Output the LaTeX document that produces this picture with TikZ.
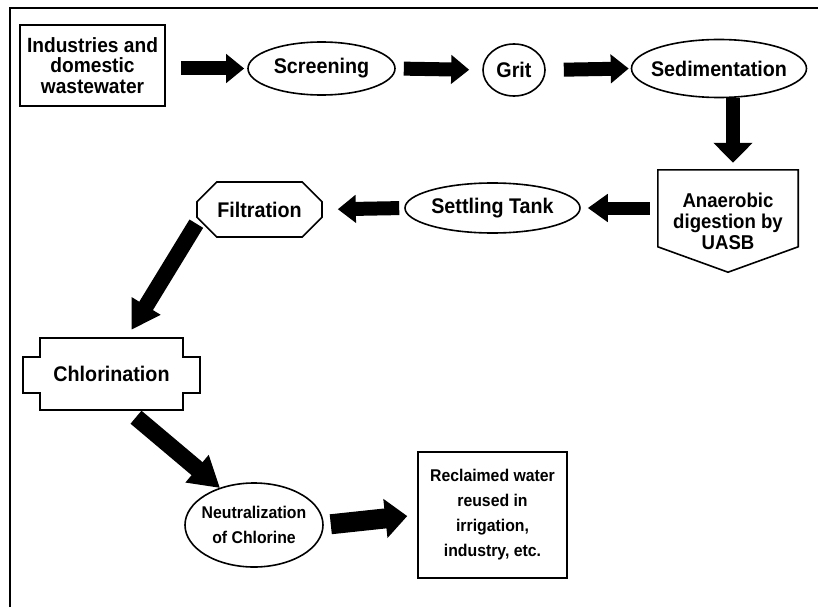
\documentclass[tikz,border=0pt]{standalone}
\usepackage{fontspec}
\setmainfont{Liberation Sans}[FakeStretch=0.93]
\usetikzlibrary{shapes.geometric,shapes.misc,arrows.meta,calc}
\begin{document}
\begin{tikzpicture}[x=1pt,y=-1pt,
  outline/.style={line width=1.6pt},
  box/.style={draw, outline, align=center, inner sep=0pt},
  ell/.style={ellipse, draw, outline, inner sep=0pt},
  big/.style={font=\bfseries\fontsize{21.2}{20}\selectfont, align=center},
  mid/.style={font=\bfseries\fontsize{20}{21}\selectfont, align=center},
  small/.style={font=\bfseries\fontsize{17}{25}\selectfont, align=center},
  blka/.style args={#1/#2/#3}{line width=#1, -{Triangle[length=#2,width=#3]}}
]
\useasboundingbox (0,0) rectangle (818,607);
% frame
\draw[line width=2pt] (10,607) -- (10,8) -- (818,8);

% nodes
\node[box, big, font=\bfseries\fontsize{20.6}{20.2}\selectfont, minimum width=145pt, minimum height=81pt] (ind) at (92.5,65.5) {Industries and\\domestic\\wastewater};
\node[ell, minimum width=147pt, minimum height=53pt, label={[big]center:Screening}] (scr) at (321.5,68.5) {};
\node[ell, minimum width=62pt, minimum height=52pt, label={[big]center:Grit}] (grit) at (514,70) {};
\node[ell, minimum width=175pt, minimum height=58pt, label={[big]center:Sedimentation}] (sed) at (719,68.5) {};
\node[mid, minimum width=140pt, minimum height=102pt, inner sep=0pt] (uasb) at (728,221) {Anaerobic\\digestion by\\UASB};
\draw[outline] (uasb.north west) -- (uasb.north east) -- ($(uasb.north east)+(0,77)$) -- (uasb.south) -- ($(uasb.north west)+(0,77)$) -- cycle;
\node[ell, minimum width=175pt, minimum height=50pt, label={[big]center:Settling Tank}] (set) at (492.5,208) {};
\node[chamfered rectangle, chamfered rectangle xsep=12pt, chamfered rectangle ysep=12pt, draw, outline, big, minimum width=125pt, minimum height=55pt, inner sep=0pt] (filt) at (259.5,209.5) {Filtration};
\node[big, minimum width=177pt, minimum height=72pt, inner sep=0pt] (chl) at (111.5,374) {Chlorination};
\draw[outline, shift={(chl.center)}] (-71.5,-36) -- (71.5,-36) -- (71.5,-17) -- (88.5,-17) -- (88.5,19) -- (71.5,19) -- (71.5,36) -- (-71.5,36) -- (-71.5,19) -- (-88.5,19) -- (-88.5,-17) -- (-71.5,-17) -- cycle;
\node[ell, minimum width=138pt, minimum height=84pt, label={[small]center:{Neutralization\\of Chlorine}}] (neu) at (254,525) {};
\node[box, small, minimum width=149pt, minimum height=126pt] (rec) at (492.5,515) {Reclaimed water\\reused in\\irrigation,\\industry, etc.};

% arrows
\draw[blka={14pt/18pt/28pt}, shorten <=15pt, shorten >=3pt] (ind.east |- scr.west) -- (scr.west);
\draw[blka={14pt/18pt/28pt}, shorten <=8pt, shorten >=13pt] (scr.east) -- (grit.west);
\draw[blka={14pt/18pt/28pt}, shorten <=18pt, shorten >=2pt] (grit.east) -- (sed.west);
\draw[blka={14pt/20pt/38pt}, shorten >=7pt] ([xshift=5pt]uasb.north |- sed.south) -- ([xshift=5pt]uasb.north);
\draw[blka={13pt/20pt/27pt}, shorten <=8pt, shorten >=7pt] (uasb.west |- set.east) -- (set.east);
\draw[blka={14pt/18pt/27pt}, shorten <=5pt, shorten >=15pt] (set.west) -- (filt.east);
\draw[blka={16pt/28pt/32pt}] ($(filt.south west)+(-10,-4)$) -- ($(chl.north)+(20,-8)$);
\draw[blka={17pt/30pt/34pt}] ($(chl.south)+(24.5,7)$) -- ($(neu.center)+(-34,-37)$);
\draw[blka={20pt/22pt/38pt}, shorten <=7pt, shorten >=10pt] (neu.east) -- (rec.west);
\end{tikzpicture}
\end{document}
